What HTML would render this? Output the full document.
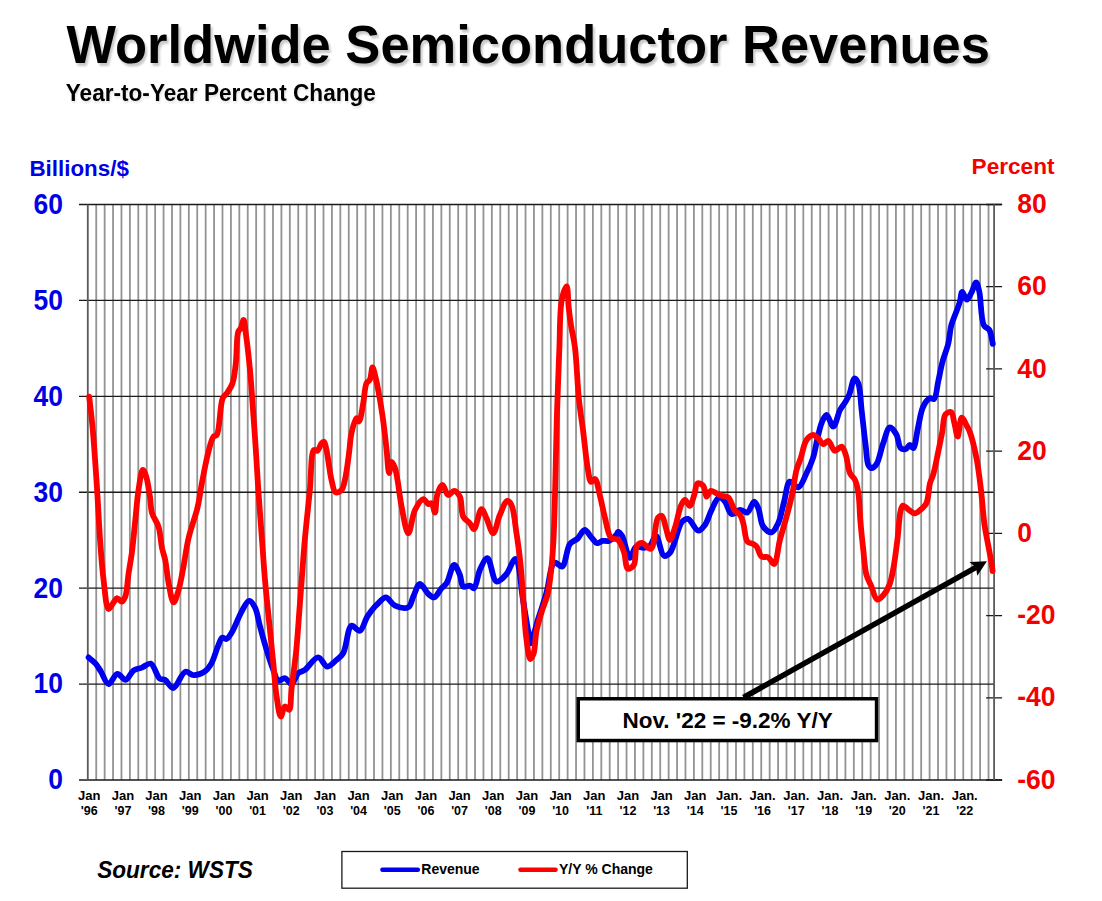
<!DOCTYPE html>
<html><head><meta charset="utf-8">
<style>
html,body{margin:0;padding:0;background:#fff;width:1102px;height:901px;overflow:hidden}
svg{position:absolute;left:0;top:0;font-family:"Liberation Sans",sans-serif}
</style></head><body>
<svg width="1102" height="901" viewBox="0 0 1102 901">
<defs><filter id="sh" x="-5%" y="-20%" width="110%" height="150%"><feGaussianBlur in="SourceAlpha" stdDeviation="1.2"/><feOffset dx="2" dy="2.5" result="b"/><feComponentTransfer><feFuncA type="linear" slope="0.22"/></feComponentTransfer><feMerge><feMergeNode/><feMergeNode in="SourceGraphic"/></feMerge></filter><filter id="sh2" x="-5%" y="-20%" width="110%" height="150%"><feGaussianBlur in="SourceAlpha" stdDeviation="1"/><feOffset dx="1.2" dy="1.5" result="b"/><feComponentTransfer><feFuncA type="linear" slope="0.12"/></feComponentTransfer><feMerge><feMergeNode/><feMergeNode in="SourceGraphic"/></feMerge></filter></defs>
<text transform="translate(66.4 62.8) scale(1 1.02)" font-size="52.5" font-weight="bold" fill="#000" filter="url(#sh)">Worldwide Semiconductor Revenues</text>
<text transform="translate(65.8 100.7) scale(1 1.035)" font-size="22.6" font-weight="bold" fill="#000" filter="url(#sh2)">Year-to-Year Percent Change</text>
<text x="29.4" y="175.6" font-size="22.4" font-weight="bold" fill="#0000e6">Billions/$</text>
<text x="971.6" y="174" font-size="22.6" font-weight="bold" fill="#f40000">Percent</text>
<path d="M96.22 204.5V780.0 M104.64 204.5V780.0 M113.05 204.5V780.0 M121.47 204.5V780.0 M129.89 204.5V780.0 M138.31 204.5V780.0 M146.73 204.5V780.0 M155.14 204.5V780.0 M163.56 204.5V780.0 M171.98 204.5V780.0 M180.40 204.5V780.0 M188.82 204.5V780.0 M197.23 204.5V780.0 M205.65 204.5V780.0 M214.07 204.5V780.0 M222.49 204.5V780.0 M230.91 204.5V780.0 M239.32 204.5V780.0 M247.74 204.5V780.0 M256.16 204.5V780.0 M264.58 204.5V780.0 M273.00 204.5V780.0 M281.41 204.5V780.0 M289.83 204.5V780.0 M298.25 204.5V780.0 M306.67 204.5V780.0 M315.09 204.5V780.0 M323.50 204.5V780.0 M331.92 204.5V780.0 M340.34 204.5V780.0 M348.76 204.5V780.0 M357.18 204.5V780.0 M365.59 204.5V780.0 M374.01 204.5V780.0 M382.43 204.5V780.0 M390.85 204.5V780.0 M399.27 204.5V780.0 M407.68 204.5V780.0 M416.10 204.5V780.0 M424.52 204.5V780.0 M432.94 204.5V780.0 M441.36 204.5V780.0 M449.77 204.5V780.0 M458.19 204.5V780.0 M466.61 204.5V780.0 M475.03 204.5V780.0 M483.45 204.5V780.0 M491.86 204.5V780.0 M500.28 204.5V780.0 M508.70 204.5V780.0 M517.12 204.5V780.0 M525.54 204.5V780.0 M533.95 204.5V780.0 M542.37 204.5V780.0 M550.79 204.5V780.0 M559.21 204.5V780.0 M567.63 204.5V780.0 M576.04 204.5V780.0 M584.46 204.5V780.0 M592.88 204.5V780.0 M601.30 204.5V780.0 M609.72 204.5V780.0 M618.13 204.5V780.0 M626.55 204.5V780.0 M634.97 204.5V780.0 M643.39 204.5V780.0 M651.81 204.5V780.0 M660.22 204.5V780.0 M668.64 204.5V780.0 M677.06 204.5V780.0 M685.48 204.5V780.0 M693.90 204.5V780.0 M702.31 204.5V780.0 M710.73 204.5V780.0 M719.15 204.5V780.0 M727.57 204.5V780.0 M735.99 204.5V780.0 M744.40 204.5V780.0 M752.82 204.5V780.0 M761.24 204.5V780.0 M769.66 204.5V780.0 M778.08 204.5V780.0 M786.49 204.5V780.0 M794.91 204.5V780.0 M803.33 204.5V780.0 M811.75 204.5V780.0 M820.17 204.5V780.0 M828.58 204.5V780.0 M837.00 204.5V780.0 M845.42 204.5V780.0 M853.84 204.5V780.0 M862.26 204.5V780.0 M870.67 204.5V780.0 M879.09 204.5V780.0 M887.51 204.5V780.0 M895.93 204.5V780.0 M904.35 204.5V780.0 M912.76 204.5V780.0 M921.18 204.5V780.0 M929.60 204.5V780.0 M938.02 204.5V780.0 M946.44 204.5V780.0 M954.85 204.5V780.0 M963.27 204.5V780.0 M971.69 204.5V780.0 M980.11 204.5V780.0 M988.53 204.5V780.0" stroke="#939393" stroke-width="1.8" fill="none"/>
<path d="M79 780.00H1002.10 M79 684.08H994.10 M79 588.17H994.10 M79 492.25H994.10 M79 396.33H994.10 M79 300.42H994.10 M79 204.50H1002.10" stroke="#1a1a1a" stroke-width="1.3" fill="none"/>
<path d="M986.1 780.00H1002.1 M986.1 697.79H1002.1 M986.1 615.57H1002.1 M986.1 533.36H1002.1 M986.1 451.14H1002.1 M986.1 368.93H1002.1 M986.1 286.71H1002.1 M986.1 204.50H1002.1" stroke="#1a1a1a" stroke-width="1.3" fill="none"/>
<path d="M87.8 204.5V780.0M994.1 204.5V780.0" stroke="#5a5a5a" stroke-width="1.8" fill="none"/>
<path d="M88.6 657.4C89.8 658.4 93.5 661.2 95.6 663.6C97.7 666.0 99.1 668.7 101.0 671.7C103.3 675.4 105.7 683.8 108.5 684.0C111.2 684.2 114.3 674.1 117.4 673.8C120.1 673.5 123.0 680.2 125.6 679.9C128.5 679.6 130.7 672.5 133.7 670.4C136.2 668.7 139.1 668.7 141.9 667.6C144.8 666.4 148.1 662.8 150.7 663.6C154.2 664.7 156.5 676.2 159.6 678.5C161.4 679.8 163.2 678.9 165.0 679.9C167.6 681.4 170.3 688.2 173.2 688.0C177.0 687.7 181.3 672.8 185.4 671.7C188.1 671.0 190.6 675.0 193.6 675.1C196.9 675.3 201.5 673.7 204.5 671.7C207.4 669.8 209.3 667.0 211.3 663.6C214.0 659.0 216.0 650.6 218.1 645.9C219.6 642.6 220.5 638.4 222.2 637.7C223.4 637.2 225.0 639.4 226.3 639.0C228.2 638.4 230.1 635.1 232.0 632.0C235.1 627.1 238.4 617.2 241.6 611.6C244.1 607.3 246.7 600.9 249.1 600.8C251.1 600.7 253.4 604.4 255.0 607.5C257.4 612.0 258.2 619.9 260.0 626.6C262.0 634.0 264.3 642.5 266.6 649.9C268.7 656.8 271.1 664.3 273.3 669.9C275.0 674.1 276.0 679.7 278.3 680.7C280.1 681.4 282.8 677.8 284.9 678.2C287.3 678.6 289.5 684.3 291.6 684.0C294.1 683.6 295.6 675.6 298.2 673.2C300.2 671.4 302.4 671.6 304.9 669.9C308.8 667.2 314.2 657.3 318.2 657.4C321.6 657.5 324.2 666.4 327.4 666.6C330.3 666.8 333.8 662.2 336.5 659.9C339.0 657.8 341.2 656.5 343.2 653.2C346.7 647.4 347.5 627.3 351.5 625.8C353.8 624.9 357.4 631.5 359.8 630.8C362.9 629.9 364.6 620.8 367.3 616.6C369.7 612.9 372.7 609.0 374.8 606.6C376.1 605.1 376.9 604.4 378.3 603.2C380.3 601.5 383.2 597.3 385.8 597.4C388.8 597.5 391.3 604.0 395.0 605.7C398.8 607.4 405.2 609.0 408.3 607.3C411.2 605.7 411.5 600.2 413.3 596.5C415.3 592.5 417.3 584.3 419.9 584.0C422.4 583.7 425.6 591.7 428.3 594.0C430.3 595.7 432.2 597.7 434.1 597.4C436.6 596.9 439.3 590.8 441.6 588.2C443.4 586.2 445.0 585.6 446.6 583.2C449.3 579.2 451.6 565.1 454.1 564.9C456.0 564.8 458.4 571.3 459.9 574.9C461.4 578.5 461.0 585.0 463.2 586.5C464.8 587.6 468.0 585.3 469.9 585.7C471.5 586.0 472.8 588.7 474.0 588.2C476.5 587.3 477.4 575.2 479.9 569.9C482.0 565.4 485.0 558.0 487.4 558.2C490.6 558.5 492.5 580.4 496.5 581.5C499.3 582.3 503.6 577.3 506.5 574.0C509.9 570.1 512.7 559.4 514.8 559.0C515.7 558.8 516.4 559.7 517.1 561.0C519.7 565.7 520.9 587.0 523.0 600.0C525.1 613.0 528.4 632.2 529.5 638.8C529.9 641.1 529.8 643.4 530.3 643.4C531.6 643.5 536.0 625.7 538.8 617.0C541.5 608.6 544.1 600.9 546.6 592.2C549.3 582.8 550.3 564.4 554.4 562.6C556.6 561.6 560.0 567.4 562.2 566.5C565.8 565.0 566.4 548.7 569.9 544.0C572.1 541.0 575.3 540.7 577.7 538.5C580.3 536.1 582.3 530.1 584.7 530.0C587.0 530.0 589.5 535.5 591.7 537.8C593.6 539.8 595.2 542.8 597.1 543.2C598.8 543.5 600.6 541.3 602.5 540.9C604.5 540.5 606.7 541.6 608.8 540.9C611.4 540.0 615.0 536.5 616.5 534.7C617.4 533.7 617.3 531.9 618.0 531.8C618.9 531.7 620.7 533.7 622.0 535.8C624.7 540.0 627.3 557.6 630.0 557.8C632.0 557.9 633.3 548.2 636.0 546.8C638.2 545.7 641.5 548.0 644.0 547.8C646.2 547.6 648.2 547.2 650.0 545.8C652.4 543.9 654.0 535.6 656.0 535.8C658.7 536.0 660.7 554.6 664.0 555.8C665.8 556.5 668.1 554.9 670.0 552.8C674.3 548.1 677.7 526.6 682.0 521.9C683.9 519.8 685.9 518.5 688.0 518.9C691.2 519.5 695.1 530.5 698.3 530.7C700.7 530.9 703.0 527.6 705.0 524.9C707.7 521.3 709.2 514.6 711.6 509.9C713.9 505.5 716.4 498.0 719.1 497.4C721.0 497.0 723.2 499.5 725.0 501.6C727.5 504.5 728.7 513.1 731.6 514.0C733.9 514.8 737.3 510.1 740.0 509.9C742.5 509.7 745.2 513.2 747.4 512.4C750.1 511.4 752.1 501.6 754.1 501.6C755.7 501.6 757.0 505.3 758.3 508.2C760.3 512.7 760.3 522.4 763.2 526.5C765.3 529.5 769.1 532.8 771.6 532.4C774.2 532.0 776.3 527.1 778.2 523.2C780.8 517.7 782.1 508.7 784.1 501.6C786.0 494.8 786.8 482.7 789.9 481.6C792.1 480.8 795.7 487.9 798.2 487.4C801.4 486.7 804.0 478.2 806.5 473.3C809.0 468.4 811.2 463.7 813.0 458.0C815.1 451.4 816.3 442.5 818.0 436.0C819.3 430.8 820.3 425.8 822.0 422.0C823.3 419.1 825.0 414.9 826.6 414.9C828.7 415.0 831.2 426.7 833.3 426.6C835.7 426.4 837.7 414.4 840.0 410.0C841.6 406.9 843.5 405.0 845.0 402.5C846.5 400.0 847.8 398.1 849.1 395.0C851.0 390.6 852.6 378.6 854.6 378.3C855.8 378.1 857.3 380.8 858.3 383.3C860.4 388.5 860.5 400.4 861.6 410.0C862.9 421.2 864.5 436.5 865.8 446.6C866.7 453.8 866.6 461.4 868.3 464.9C869.2 466.7 870.4 468.1 871.6 468.2C873.1 468.3 875.1 466.2 876.6 464.0C879.3 459.9 880.8 449.6 883.2 443.2C885.3 437.5 887.3 427.8 889.9 427.4C891.9 427.1 894.9 431.8 896.6 434.9C898.6 438.5 898.5 446.2 900.7 448.2C902.0 449.4 904.2 449.6 905.7 449.1C907.3 448.6 908.6 444.9 909.9 444.9C911.1 444.9 912.2 448.5 913.2 448.2C915.4 447.6 916.5 433.7 918.2 426.6C919.8 419.8 920.7 411.6 923.2 406.6C925.0 403.0 927.7 399.1 929.9 398.3C931.3 397.8 932.9 399.8 934.0 399.1C936.4 397.6 936.8 387.7 938.2 381.6C939.7 375.0 940.9 367.5 942.7 361.0C944.3 355.0 946.8 349.8 948.2 343.9C949.7 337.9 949.8 330.8 951.3 325.3C952.5 320.7 954.4 316.8 955.9 312.8C957.3 309.1 958.7 305.6 959.8 302.0C960.8 298.6 961.0 292.1 962.2 291.9C963.4 291.7 965.2 299.6 966.8 299.6C968.3 299.6 970.0 295.2 971.5 292.6C973.2 289.6 974.8 282.4 976.1 282.5C977.3 282.5 978.2 287.2 979.2 291.1C981.1 298.7 980.7 319.4 983.9 325.3C985.4 328.0 987.9 327.7 989.3 329.9C991.3 333.1 992.2 341.6 992.8 343.9" stroke="#0000f0" stroke-width="5.8" fill="none" stroke-linejoin="round" stroke-linecap="round"/>
<path d="M89.2 396.6C89.8 402.2 91.7 417.3 92.8 430.0C94.3 446.7 95.7 468.9 97.0 488.0C98.2 506.6 99.1 526.8 100.3 543.3C101.3 556.8 102.1 568.5 103.6 580.0C104.9 590.3 106.0 608.4 108.6 609.0C110.0 609.3 112.1 604.3 113.6 602.4C114.8 600.8 115.7 598.4 117.0 598.2C118.4 598.0 120.6 601.9 122.0 601.6C123.4 601.3 124.4 599.0 125.3 596.6C127.1 591.8 127.5 580.9 128.6 573.3C129.7 565.9 131.0 559.5 132.0 551.6C133.2 542.1 134.2 530.4 135.3 520.0C136.4 509.9 137.1 499.0 138.5 490.0C139.7 482.6 141.1 470.1 142.8 469.9C143.8 469.8 145.0 473.3 146.0 476.0C147.7 480.8 149.0 490.5 150.0 497.0C150.9 502.7 150.5 508.0 152.0 513.0C153.4 517.9 157.0 521.7 158.6 527.0C160.5 533.2 160.7 542.0 162.0 548.0C163.0 552.6 164.2 555.3 165.2 560.0C166.5 566.4 167.1 575.7 168.6 583.0C170.0 589.8 171.7 602.3 173.6 602.4C175.1 602.5 177.1 594.9 178.6 590.0C180.6 583.5 181.9 574.8 183.5 566.6C185.2 557.6 186.3 547.7 188.5 538.3C190.7 528.8 195.3 516.3 196.9 510.0C197.7 506.9 197.9 505.9 198.5 503.0C199.5 498.1 200.5 490.4 201.9 483.0C203.7 473.7 206.2 460.1 208.5 451.6C210.1 445.6 211.4 439.0 213.5 436.6C214.5 435.5 215.8 436.3 216.8 435.0C219.9 430.8 219.8 404.7 222.7 398.3C223.9 395.6 225.4 395.3 226.8 393.3C228.7 390.6 231.1 387.3 232.5 383.2C234.4 377.8 234.9 370.7 235.8 363.3C236.9 354.0 236.4 336.6 238.3 331.6C239.0 329.8 240.0 329.7 240.8 328.3C241.9 326.2 242.8 319.9 243.6 320.0C244.6 320.1 245.0 327.8 245.8 333.3C247.1 342.5 248.8 357.5 250.0 370.0C251.2 383.0 252.1 397.1 253.0 410.0C253.9 422.1 254.7 432.9 255.5 445.0C256.4 457.9 257.0 470.2 258.0 485.0C259.2 503.3 261.2 529.1 262.5 546.5C263.4 559.4 264.0 568.2 265.0 580.0C266.1 593.1 267.7 607.7 269.1 621.6C270.5 635.5 272.0 650.1 273.3 663.2C274.5 674.9 275.1 686.8 276.6 696.5C277.8 704.0 279.1 716.3 280.8 716.5C282.0 716.6 283.2 707.0 284.9 706.5C286.1 706.2 288.0 710.2 289.1 709.8C291.3 708.9 290.6 696.4 291.6 688.2C292.9 677.3 295.0 662.6 296.3 650.0C297.5 637.6 298.3 625.0 299.2 613.0C300.1 601.7 300.8 591.5 301.7 580.0C302.7 567.3 303.5 554.1 304.8 540.0C306.2 524.3 308.3 505.7 309.9 490.0C311.3 475.9 310.7 452.3 314.0 450.0C315.0 449.3 316.4 451.3 317.4 450.8C319.0 450.1 320.2 444.8 321.6 443.3C322.4 442.4 323.3 441.5 324.0 441.7C325.2 442.1 325.6 446.3 326.5 450.0C328.1 456.9 329.6 472.2 331.5 480.0C332.8 485.1 333.5 491.4 335.7 492.4C337.2 493.1 340.0 491.6 341.5 490.0C343.4 488.0 343.9 484.2 344.9 480.0C346.5 473.3 347.9 461.6 349.0 453.3C350.0 446.1 350.1 439.3 351.5 433.2C352.7 427.8 354.9 418.5 356.5 418.2C357.3 418.1 358.2 421.7 359.0 421.5C360.7 421.1 362.0 409.5 363.2 403.2C364.5 396.7 364.6 386.9 366.5 383.2C367.4 381.4 368.9 381.5 369.8 379.9C371.3 377.2 371.5 367.5 372.5 367.5C373.5 367.5 374.7 374.0 375.8 378.3C377.3 384.3 378.7 392.8 380.0 400.0C381.2 407.2 382.3 413.9 383.3 421.6C384.5 430.4 385.6 440.9 386.6 449.9C387.5 458.0 388.1 472.9 389.1 473.0C389.8 473.0 390.4 462.2 391.6 462.0C392.5 461.9 394.1 465.6 395.0 468.0C396.2 471.2 396.6 475.2 397.5 480.0C398.8 487.1 399.8 497.8 401.6 506.6C403.4 515.5 406.0 533.3 408.3 533.3C410.5 533.3 411.9 516.1 415.0 510.0C417.3 505.4 420.8 499.3 423.3 499.1C425.1 499.0 426.7 503.6 428.3 504.1C429.4 504.4 430.7 502.8 431.6 503.3C433.2 504.2 434.0 512.6 434.9 512.5C436.1 512.4 435.8 499.0 437.4 494.1C438.6 490.4 440.7 485.0 442.4 485.0C444.2 485.0 446.0 494.5 448.2 495.0C450.0 495.4 452.2 490.6 454.1 490.8C456.1 491.0 458.4 493.8 459.9 496.6C462.2 501.0 460.8 512.0 463.2 516.6C464.8 519.8 468.0 521.1 469.9 523.3C471.5 525.2 472.6 529.3 474.0 529.1C476.4 528.8 479.1 509.3 481.5 509.1C483.2 509.0 484.8 514.8 486.5 518.3C488.7 522.7 491.1 533.4 493.2 533.3C495.5 533.2 497.3 520.6 499.8 515.0C502.1 509.9 504.9 501.2 507.3 500.8C508.7 500.6 510.3 502.7 511.5 505.0C514.1 510.1 515.0 523.9 516.5 533.3C517.9 542.6 519.1 551.0 520.2 561.0C521.5 572.9 522.3 587.0 523.3 600.0C524.3 613.0 524.9 628.0 526.4 638.8C527.5 646.7 528.6 658.7 530.3 659.0C531.2 659.2 532.5 656.6 533.4 654.3C535.2 649.6 535.0 638.4 536.5 631.0C537.9 624.0 540.1 617.1 542.0 610.8C543.7 605.3 545.9 601.2 547.4 595.3C549.3 587.7 550.3 578.0 551.3 568.8C552.4 558.9 552.9 551.7 553.6 537.8C555.0 509.7 556.0 444.8 557.1 409.8C557.9 385.4 558.6 367.1 559.4 347.7C560.1 330.6 559.6 310.4 561.8 299.5C563.0 293.6 565.6 286.2 566.7 286.3C568.1 286.5 567.9 300.5 568.7 307.3C569.4 313.7 570.1 319.5 571.1 325.9C572.2 332.9 573.9 338.8 575.0 347.7C576.7 361.3 577.4 385.0 579.0 400.0C580.2 411.4 581.6 419.3 583.0 430.0C584.6 442.4 586.2 460.5 588.0 469.9C589.0 475.1 589.3 481.3 591.0 481.9C592.1 482.3 593.8 478.5 595.0 478.9C597.2 479.6 598.4 489.8 600.0 495.9C601.8 502.7 603.1 510.8 605.0 517.9C606.8 524.7 607.8 534.6 611.0 537.8C612.9 539.7 616.0 538.2 617.9 539.8C620.6 542.0 622.3 547.3 623.9 551.8C625.7 556.9 625.5 567.8 627.9 568.8C629.5 569.4 632.4 567.1 633.9 564.8C636.3 561.0 634.6 549.2 636.9 545.8C638.2 543.9 640.0 542.8 641.9 542.8C644.5 542.9 648.5 549.8 650.9 548.8C655.0 547.2 654.7 522.0 657.9 517.9C659.1 516.4 660.8 515.4 661.9 515.9C663.8 516.7 664.6 523.8 665.9 527.8C667.2 531.8 668.4 539.7 669.9 539.8C671.4 539.9 673.3 532.5 674.9 527.8C677.0 521.6 678.7 510.8 680.9 505.9C682.2 503.1 683.4 500.0 684.9 499.9C686.4 499.8 688.3 506.1 689.8 505.9C691.7 505.6 693.2 497.9 694.5 494.0C695.7 490.4 695.6 484.2 697.5 483.3C698.9 482.6 701.8 484.2 703.3 485.8C705.2 488.0 705.1 496.4 706.6 496.6C707.8 496.8 709.1 491.3 710.8 490.8C712.4 490.4 714.7 492.5 716.6 493.3C718.3 494.1 719.8 495.0 721.6 495.7C723.6 496.4 726.4 495.8 728.3 497.4C731.1 499.7 732.5 507.7 734.9 510.7C736.5 512.7 738.6 513.0 740.0 514.9C741.6 517.1 742.3 519.8 743.3 523.2C744.8 528.1 744.8 538.3 747.4 541.5C748.9 543.3 751.7 543.1 753.3 544.0C754.6 544.8 755.5 545.2 756.6 546.5C758.4 548.6 759.3 554.9 761.6 556.5C763.4 557.8 766.2 556.3 768.2 557.3C770.5 558.5 772.4 564.4 774.1 564.0C776.9 563.3 777.8 547.8 779.9 539.9C782.0 532.0 784.5 524.4 786.6 516.6C788.7 508.8 790.7 501.0 792.4 493.2C794.0 485.5 794.8 476.4 796.5 470.0C797.7 465.4 799.2 462.6 800.7 458.3C802.5 452.9 803.7 443.9 806.5 440.0C808.4 437.4 811.1 435.1 813.2 435.0C815.0 434.9 816.6 436.9 818.2 438.3C820.0 439.9 821.4 443.9 823.2 444.1C824.8 444.3 826.6 440.5 828.2 440.8C830.5 441.3 832.3 450.2 834.8 450.8C836.9 451.3 839.8 446.1 841.6 446.6C843.5 447.1 844.6 451.5 845.8 454.9C847.5 459.7 847.9 468.8 850.0 473.2C851.4 476.2 853.7 477.1 855.0 479.9C856.8 483.6 857.7 488.6 858.5 494.0C859.6 501.1 859.5 510.1 860.2 518.8C861.0 528.6 862.2 540.1 863.3 549.9C864.3 558.7 864.6 568.3 866.4 574.8C867.6 579.3 869.4 581.9 871.1 585.7C873.0 590.1 874.7 598.9 877.3 599.6C879.1 600.1 881.6 597.1 883.5 595.0C885.9 592.3 888.1 588.3 889.7 584.1C891.6 579.2 892.4 573.4 893.6 567.0C895.1 558.8 896.3 548.3 897.5 539.0C898.7 529.7 899.1 516.8 900.6 511.1C901.3 508.5 901.7 506.0 902.9 505.6C904.2 505.2 906.5 508.2 908.4 509.5C910.4 510.8 912.5 513.4 914.6 513.4C916.7 513.4 918.9 511.1 920.8 509.5C922.8 507.8 925.0 506.2 926.4 503.2C928.6 498.6 928.6 488.5 930.0 483.2C931.0 479.6 932.2 477.9 933.3 474.3C934.9 469.0 936.3 461.2 937.7 454.4C939.2 447.2 940.8 439.2 942.2 432.2C943.4 425.9 943.0 417.4 945.5 414.4C946.9 412.7 949.7 411.5 951.1 412.2C953.1 413.2 953.3 419.4 954.4 423.3C955.6 427.5 956.6 436.6 957.7 436.6C959.0 436.6 959.8 418.0 961.7 417.7C963.0 417.5 965.2 423.0 966.6 425.5C967.9 427.8 968.8 429.1 969.9 432.2C972.1 438.1 974.8 449.5 976.6 458.8C978.5 468.7 979.7 479.3 981.0 489.9C982.3 501.0 983.2 515.1 984.4 524.0C985.2 529.7 986.0 533.3 986.8 538.0C987.7 542.7 988.7 547.7 989.5 552.0C990.2 555.6 990.8 558.7 991.3 562.0C991.8 565.1 992.4 569.5 992.6 571.0" stroke="#ff0000" stroke-width="5.8" fill="none" stroke-linejoin="round" stroke-linecap="round"/>
<rect x="578.25" y="698.75" width="298.3" height="41.8" fill="#fff" stroke="#000" stroke-width="3.5"/>
<line x1="743.5" y1="697.5" x2="975.99" y2="567.40" stroke="#000" stroke-width="5.6"/>
<path d="M986.9 561.3L977.28 575.85L975.99 567.40L969.47 561.89Z" fill="#000"/>
<text transform="translate(727.6 728.0) scale(1 1.0)" text-anchor="middle" font-size="22.5" font-weight="bold" fill="#000">Nov. '22 = -9.2% Y/Y</text>
<text transform="translate(62.9 789.40) scale(1 1.09)" text-anchor="end" font-size="26.5" font-weight="bold" fill="#0000e6">0</text>
<text transform="translate(62.9 693.48) scale(1 1.09)" text-anchor="end" font-size="26.5" font-weight="bold" fill="#0000e6">10</text>
<text transform="translate(62.9 597.57) scale(1 1.09)" text-anchor="end" font-size="26.5" font-weight="bold" fill="#0000e6">20</text>
<text transform="translate(62.9 501.65) scale(1 1.09)" text-anchor="end" font-size="26.5" font-weight="bold" fill="#0000e6">30</text>
<text transform="translate(62.9 405.73) scale(1 1.09)" text-anchor="end" font-size="26.5" font-weight="bold" fill="#0000e6">40</text>
<text transform="translate(62.9 309.82) scale(1 1.09)" text-anchor="end" font-size="26.5" font-weight="bold" fill="#0000e6">50</text>
<text transform="translate(62.9 213.90) scale(1 1.09)" text-anchor="end" font-size="26.5" font-weight="bold" fill="#0000e6">60</text>
<text transform="translate(1017.2 788.60) scale(1 1.07)" font-size="26.5" font-weight="bold" fill="#f40000">-60</text>
<text transform="translate(1017.2 706.39) scale(1 1.07)" font-size="26.5" font-weight="bold" fill="#f40000">-40</text>
<text transform="translate(1017.2 624.17) scale(1 1.07)" font-size="26.5" font-weight="bold" fill="#f40000">-20</text>
<text transform="translate(1017.2 541.96) scale(1 1.07)" font-size="26.5" font-weight="bold" fill="#f40000">0</text>
<text transform="translate(1017.2 459.74) scale(1 1.07)" font-size="26.5" font-weight="bold" fill="#f40000">20</text>
<text transform="translate(1017.2 377.53) scale(1 1.07)" font-size="26.5" font-weight="bold" fill="#f40000">40</text>
<text transform="translate(1017.2 295.31) scale(1 1.07)" font-size="26.5" font-weight="bold" fill="#f40000">60</text>
<text transform="translate(1017.2 213.10) scale(1 1.07)" font-size="26.5" font-weight="bold" fill="#f40000">80</text>
<text x="89.2" y="800" text-anchor="middle" font-size="13" font-weight="bold" fill="#000">Jan</text>
<text x="89.2" y="815" text-anchor="middle" font-size="12.5" font-weight="bold" fill="#000">'96</text>
<text x="122.9" y="800" text-anchor="middle" font-size="13" font-weight="bold" fill="#000">Jan</text>
<text x="122.9" y="815" text-anchor="middle" font-size="12.5" font-weight="bold" fill="#000">'97</text>
<text x="156.5" y="800" text-anchor="middle" font-size="13" font-weight="bold" fill="#000">Jan</text>
<text x="156.5" y="815" text-anchor="middle" font-size="12.5" font-weight="bold" fill="#000">'98</text>
<text x="190.2" y="800" text-anchor="middle" font-size="13" font-weight="bold" fill="#000">Jan</text>
<text x="190.2" y="815" text-anchor="middle" font-size="12.5" font-weight="bold" fill="#000">'99</text>
<text x="223.9" y="800" text-anchor="middle" font-size="13" font-weight="bold" fill="#000">Jan</text>
<text x="223.9" y="815" text-anchor="middle" font-size="12.5" font-weight="bold" fill="#000">'00</text>
<text x="257.6" y="800" text-anchor="middle" font-size="13" font-weight="bold" fill="#000">Jan</text>
<text x="257.6" y="815" text-anchor="middle" font-size="12.5" font-weight="bold" fill="#000">'01</text>
<text x="291.2" y="800" text-anchor="middle" font-size="13" font-weight="bold" fill="#000">Jan</text>
<text x="291.2" y="815" text-anchor="middle" font-size="12.5" font-weight="bold" fill="#000">'02</text>
<text x="324.9" y="800" text-anchor="middle" font-size="13" font-weight="bold" fill="#000">Jan</text>
<text x="324.9" y="815" text-anchor="middle" font-size="12.5" font-weight="bold" fill="#000">'03</text>
<text x="358.6" y="800" text-anchor="middle" font-size="13" font-weight="bold" fill="#000">Jan</text>
<text x="358.6" y="815" text-anchor="middle" font-size="12.5" font-weight="bold" fill="#000">'04</text>
<text x="392.2" y="800" text-anchor="middle" font-size="13" font-weight="bold" fill="#000">Jan</text>
<text x="392.2" y="815" text-anchor="middle" font-size="12.5" font-weight="bold" fill="#000">'05</text>
<text x="425.9" y="800" text-anchor="middle" font-size="13" font-weight="bold" fill="#000">Jan</text>
<text x="425.9" y="815" text-anchor="middle" font-size="12.5" font-weight="bold" fill="#000">'06</text>
<text x="459.6" y="800" text-anchor="middle" font-size="13" font-weight="bold" fill="#000">Jan</text>
<text x="459.6" y="815" text-anchor="middle" font-size="12.5" font-weight="bold" fill="#000">'07</text>
<text x="493.3" y="800" text-anchor="middle" font-size="13" font-weight="bold" fill="#000">Jan</text>
<text x="493.3" y="815" text-anchor="middle" font-size="12.5" font-weight="bold" fill="#000">'08</text>
<text x="526.9" y="800" text-anchor="middle" font-size="13" font-weight="bold" fill="#000">Jan</text>
<text x="526.9" y="815" text-anchor="middle" font-size="12.5" font-weight="bold" fill="#000">'09</text>
<text x="560.6" y="800" text-anchor="middle" font-size="13" font-weight="bold" fill="#000">Jan</text>
<text x="560.6" y="815" text-anchor="middle" font-size="12.5" font-weight="bold" fill="#000">'10</text>
<text x="594.3" y="800" text-anchor="middle" font-size="13" font-weight="bold" fill="#000">Jan</text>
<text x="594.3" y="815" text-anchor="middle" font-size="12.5" font-weight="bold" fill="#000">'11</text>
<text x="628.0" y="800" text-anchor="middle" font-size="13" font-weight="bold" fill="#000">Jan</text>
<text x="628.0" y="815" text-anchor="middle" font-size="12.5" font-weight="bold" fill="#000">'12</text>
<text x="661.6" y="800" text-anchor="middle" font-size="13" font-weight="bold" fill="#000">Jan</text>
<text x="661.6" y="815" text-anchor="middle" font-size="12.5" font-weight="bold" fill="#000">'13</text>
<text x="695.3" y="800" text-anchor="middle" font-size="13" font-weight="bold" fill="#000">Jan</text>
<text x="695.3" y="815" text-anchor="middle" font-size="12.5" font-weight="bold" fill="#000">'14</text>
<text x="729.0" y="800" text-anchor="middle" font-size="13" font-weight="bold" fill="#000">Jan.</text>
<text x="729.0" y="815" text-anchor="middle" font-size="12.5" font-weight="bold" fill="#000">'15</text>
<text x="762.6" y="800" text-anchor="middle" font-size="13" font-weight="bold" fill="#000">Jan.</text>
<text x="762.6" y="815" text-anchor="middle" font-size="12.5" font-weight="bold" fill="#000">'16</text>
<text x="796.3" y="800" text-anchor="middle" font-size="13" font-weight="bold" fill="#000">Jan.</text>
<text x="796.3" y="815" text-anchor="middle" font-size="12.5" font-weight="bold" fill="#000">'17</text>
<text x="830.0" y="800" text-anchor="middle" font-size="13" font-weight="bold" fill="#000">Jan.</text>
<text x="830.0" y="815" text-anchor="middle" font-size="12.5" font-weight="bold" fill="#000">'18</text>
<text x="863.7" y="800" text-anchor="middle" font-size="13" font-weight="bold" fill="#000">Jan.</text>
<text x="863.7" y="815" text-anchor="middle" font-size="12.5" font-weight="bold" fill="#000">'19</text>
<text x="897.3" y="800" text-anchor="middle" font-size="13" font-weight="bold" fill="#000">Jan.</text>
<text x="897.3" y="815" text-anchor="middle" font-size="12.5" font-weight="bold" fill="#000">'20</text>
<text x="931.0" y="800" text-anchor="middle" font-size="13" font-weight="bold" fill="#000">Jan.</text>
<text x="931.0" y="815" text-anchor="middle" font-size="12.5" font-weight="bold" fill="#000">'21</text>
<text x="964.7" y="800" text-anchor="middle" font-size="13" font-weight="bold" fill="#000">Jan.</text>
<text x="964.7" y="815" text-anchor="middle" font-size="12.5" font-weight="bold" fill="#000">'22</text>
<text transform="translate(97.2 878.4) scale(1 1.08)" font-size="22.6" font-weight="bold" font-style="italic" fill="#000">Source: WSTS</text>
<rect x="341.9" y="851.5" width="345.4" height="36.7" fill="none" stroke="#1a1a1a" stroke-width="1.3"/>
<line x1="382.5" y1="869.8" x2="417.8" y2="869.8" stroke="#0000f0" stroke-width="4.6" stroke-linecap="round"/>
<text x="421.3" y="873.9" font-size="14" font-weight="bold" fill="#000">Revenue</text>
<line x1="520.5" y1="869.8" x2="555.5" y2="869.8" stroke="#ff0000" stroke-width="4.6" stroke-linecap="round"/>
<text x="559" y="873.9" font-size="14" font-weight="bold" fill="#000">Y/Y % Change</text>
</svg>
</body></html>
